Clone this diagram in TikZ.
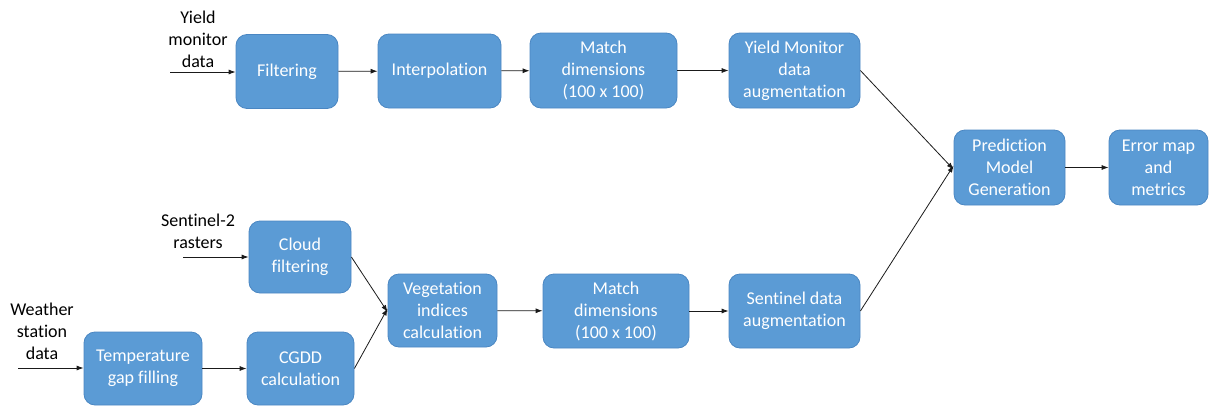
\documentclass[tikz,border=0pt]{standalone}
\usepackage{fontspec}
\setmainfont{Carlito}[Ligatures={NoCommon,NoContextual,NoRequired},Contextuals={NoAlternate}]
\usetikzlibrary{arrows.meta}
\definecolor{boxfill}{HTML}{5B9BD5}
\definecolor{boxline}{HTML}{4A86C2}
\definecolor{wire}{HTML}{1A1A1A}
\begin{document}
\begin{tikzpicture}[x=1pt,y=-1pt,
  stage/.style={draw=boxline, line width=0.8pt, fill=boxfill, rounded corners=11pt,
    text=white, align=center, font=\fontsize{18}{22}\selectfont, inner sep=0pt},
  source/.style={align=center, font=\fontsize{18}{22}\selectfont, text=black, inner sep=0pt},
  flow/.style={draw=wire, line width=0.8pt, -{Latex[length=7pt,width=5pt]}}]
\useasboundingbox (0,0) rectangle (1216,407);

% upper chain: yield monitor data
\node[stage, minimum width=102pt, minimum height=74pt] (filt) at (287,71.5) {Filtering};
\node[stage, minimum width=123pt, minimum height=74pt] (interp) at (439.5,71) {Interpolation};
\node[stage, minimum width=147pt, minimum height=75pt] (matchA) at (603.5,70.5) {Match\\dimensions\\(100 x 100)};
\node[stage, minimum width=131pt, minimum height=75pt] (ymaug) at (794.5,70.5) {Yield Monitor\\data\\augmentation};

% model and evaluation
\node[stage, minimum width=111pt, minimum height=75pt] (pred) at (1009.5,167.5) {Prediction\\Model\\Generation};
\node[stage, minimum width=99pt, minimum height=75pt] (err) at (1158.5,167.5) {Error map\\and\\metrics};

% lower chain: satellite and weather data
\node[stage, minimum width=102pt, minimum height=72pt] (cloud) at (300,257) {Cloud\\filtering};
\node[stage, minimum width=118pt, minimum height=73pt] (temp) at (143,368.5) {Temperature\\gap filling};
\node[stage, minimum width=107pt, minimum height=73pt] (cgdd) at (300.5,368.5) {CGDD\\calculation};
\node[stage, minimum width=109pt, minimum height=73pt] (veg) at (442.5,310.5) {Vegetation\\indices\\calculation};
\node[stage, minimum width=146pt, minimum height=74pt] (matchB) at (616,311) {Match\\dimensions\\(100 x 100)};
\node[stage, minimum width=131pt, minimum height=74pt] (senaug) at (794.5,311) {Sentinel data\\augmentation};

% input labels
\node[source] (ymlab) at (198,39) {Yield\\monitor\\data};
\node[source] (s2lab) at (198,231) {Sentinel-2\\rasters};
\node[source] (wxlab) at (42,331) {Weather\\station\\data};
\coordinate (ymin) at (170,72);
\coordinate (s2in) at (183,257);
\coordinate (wxin) at (18,368);

% connectors
\draw[flow] (ymin) -- (filt.west |- ymin);
\draw[flow] (filt) -- (interp);
\draw[flow] (interp) -- (matchA);
\draw[flow] (matchA) -- (ymaug);
\draw[flow] (ymaug.east) -- ([yshift=-2pt]pred.west);
\draw[flow] (senaug.east) -- ([yshift=2pt]pred.west);
\draw[flow] (pred) -- (err);

\draw[flow] (s2in) -- (cloud.west |- s2in);
\draw[flow] (wxin) -- (temp.west |- wxin);
\draw[flow] (temp) -- (cgdd);
\draw[flow] (cloud.east) -- ([yshift=-1.5pt]veg.west);
\draw[flow] (cgdd.east) -- ([yshift=2pt]veg.west);
\draw[flow] (veg) -- (matchB);
\draw[flow] (matchB) -- (senaug);
\end{tikzpicture}
\end{document}
